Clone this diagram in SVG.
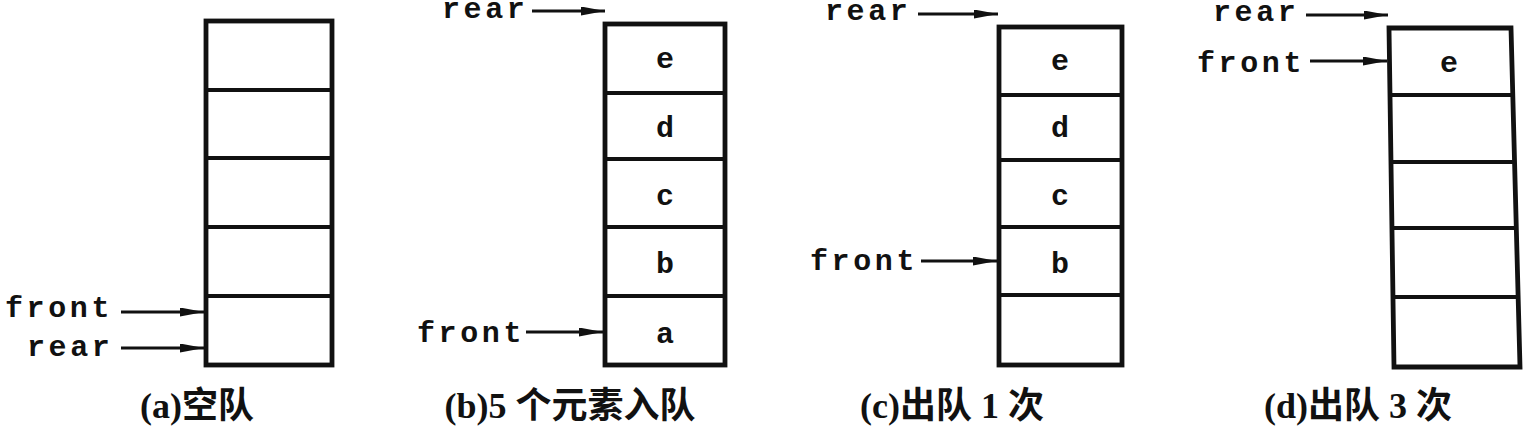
<svg xmlns="http://www.w3.org/2000/svg" width="1534" height="442" viewBox="0 0 1534 442">
<defs>
<style>
.box{fill:#fff;stroke:#111;stroke-width:4.8}
.div{stroke:#111;stroke-width:4.2}
.lbl{font-family:"Liberation Mono","DejaVu Sans Mono",monospace;font-size:30px;letter-spacing:3.6px;font-weight:bold;fill:#111}
.cell{font-family:"Liberation Mono","DejaVu Sans Mono",monospace;font-size:30px;font-weight:bold;fill:#111;text-anchor:middle}
.cap{font-family:"Liberation Serif","Noto Sans CJK SC",serif;font-size:36px;font-weight:bold;fill:#111;text-anchor:middle}
.arr{stroke:#111;stroke-width:3;fill:none;marker-end:url(#ah)}
</style>
<marker id="ah" viewBox="0 0 24 9" refX="24" refY="4.5" markerWidth="24" markerHeight="9" markerUnits="userSpaceOnUse" orient="auto">
<path d="M0,0 L24,4.5 L0,9 z" fill="#111"/>
</marker>
</defs>

<g id="queue-a">
<rect class="box" x="206" y="21" width="126" height="344"/>
<line class="div" x1="206" y1="90" x2="332" y2="90"/>
<line class="div" x1="206" y1="158" x2="332" y2="158"/>
<line class="div" x1="206" y1="227" x2="332" y2="227"/>
<line class="div" x1="206" y1="296" x2="332" y2="296"/>
<text class="cap" x="197" y="418">(a)空队</text>
</g>

<g id="queue-b">
<rect class="box" x="605" y="24" width="120" height="341"/>
<line class="div" x1="605" y1="93" x2="725" y2="93"/>
<line class="div" x1="605" y1="159" x2="725" y2="159"/>
<line class="div" x1="605" y1="227" x2="725" y2="227"/>
<line class="div" x1="605" y1="296" x2="725" y2="296"/>
<text class="cell" x="665" y="68">e</text>
<text class="cell" x="665" y="137">d</text>
<text class="cell" x="665" y="205">c</text>
<text class="cell" x="665" y="273">b</text>
<text class="cell" x="665" y="343">a</text>
<text class="cap" x="570" y="418">(b)5 个元素入队</text>
</g>

<g id="queue-c">
<rect class="box" x="999" y="27" width="123" height="338"/>
<line class="div" x1="999" y1="95" x2="1122" y2="95"/>
<line class="div" x1="999" y1="160" x2="1122" y2="160"/>
<line class="div" x1="999" y1="227" x2="1122" y2="227"/>
<line class="div" x1="999" y1="295" x2="1122" y2="295"/>
<text class="cell" x="1060" y="70">e</text>
<text class="cell" x="1060" y="137">d</text>
<text class="cell" x="1060" y="205">c</text>
<text class="cell" x="1060" y="273">b</text>
<text class="cap" x="952" y="418">(c)出队 1 次</text>
</g>

<g id="queue-d">
<polygon class="box" points="1389,28 1511,28 1520,367 1394,367"/>
<line class="div" x1="1390" y1="95" x2="1513" y2="95"/>
<line class="div" x1="1391" y1="162" x2="1515" y2="162"/>
<line class="div" x1="1392" y1="228" x2="1517" y2="228"/>
<line class="div" x1="1393" y1="297" x2="1518" y2="297"/>
<text class="cell" x="1449" y="72">e</text>
<text class="cap" x="1358" y="418">(d)出队 3 次</text>
</g>

<g id="pointer-labels">
<text class="lbl" x="5" y="317">front</text>
<text class="lbl" x="27" y="356">rear</text>
<text class="lbl" x="442" y="18">rear</text>
<text class="lbl" x="417" y="342">front</text>
<text class="lbl" x="825" y="20">rear</text>
<text class="lbl" x="810" y="270">front</text>
<text class="lbl" x="1213" y="21">rear</text>
<text class="lbl" x="1197" y="72">front</text>
</g>

<g id="connectors">
<line class="arr" x1="121" y1="312" x2="204" y2="312"/>
<line class="arr" x1="121" y1="348" x2="204" y2="348"/>
<line class="arr" x1="532" y1="11" x2="605" y2="11"/>
<line class="arr" x1="526" y1="332" x2="603" y2="332"/>
<line class="arr" x1="918" y1="14" x2="998" y2="14"/>
<line class="arr" x1="921" y1="261" x2="997" y2="261"/>
<line class="arr" x1="1306" y1="15" x2="1388" y2="15"/>
<line class="arr" x1="1310" y1="61" x2="1387" y2="61"/>
</g>
</svg>
